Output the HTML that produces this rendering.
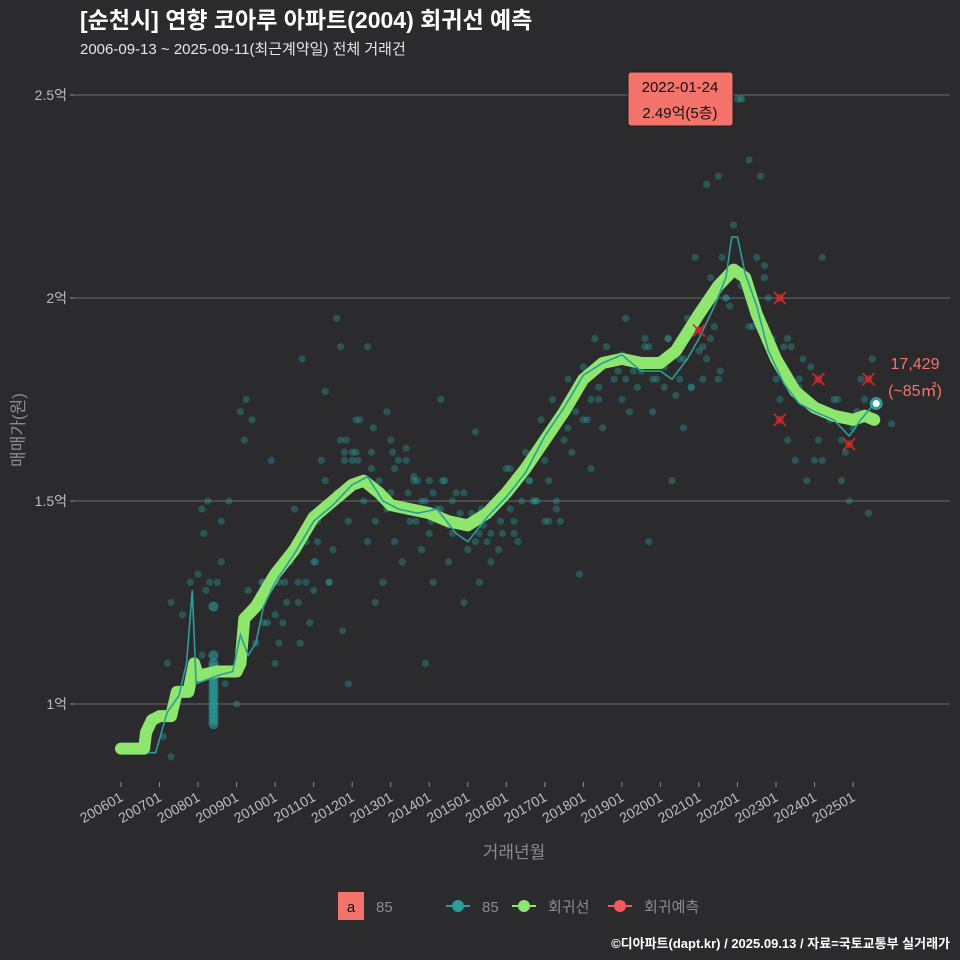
<!DOCTYPE html>
<html><head><meta charset="utf-8">
<style>
html,body{margin:0;padding:0;background:#2b2b2d;}
svg{display:block;font-family:"Liberation Sans","Noto Sans CJK KR",sans-serif;}
</style></head>
<body>
<svg id="chart" width="960" height="960" viewBox="0 0 960 960">
<rect x="0" y="0" width="960" height="960" fill="#2b2b2d"/>
<text x="80" y="28" fill="#ffffff" font-size="23" font-weight="bold">[순천시] 연향 코아루 아파트(2004) 회귀선 예측</text>
<text x="80" y="54" fill="#e6e6e6" font-size="15">2006-09-13 ~ 2025-09-11(최근계약일) 전체 거래건</text>
<g id="grid"></g>
<g id="yticks"></g>
<g id="xticks"></g>
<g id="points"></g>
<g id="lines"></g>
<g id="preds"></g>
<text x="24" y="430" fill="#8c8c8c" font-size="17" transform="rotate(-90 24 430)" text-anchor="middle">매매가(원)</text>
<text x="514" y="858" fill="#8c8c8c" font-size="17" text-anchor="middle">거래년월</text>
<g>
<rect x="628" y="72" width="105" height="54" rx="3" fill="#f4736b" stroke="#222" stroke-width="1"/>
<text x="680" y="92" font-size="15" fill="#111" text-anchor="middle">2022-01-24</text>
<text x="680" y="118" font-size="15" fill="#111" text-anchor="middle">2.49억(5층)</text>
</g>
<text x="915" y="369" fill="#f4736b" font-size="16" text-anchor="middle">17,429</text>
<text x="915" y="396" fill="#f4736b" font-size="16" text-anchor="middle">(~85㎡)</text>
<g>
<rect x="338" y="892" width="26" height="28" fill="#f4736b"/>
<text x="351" y="912" font-size="15" fill="#111" text-anchor="middle">a</text>
<text x="376" y="912" font-size="15" fill="#8c8c8c">85</text>
<g><line x1="446" y1="906" x2="470" y2="906" stroke="#2a9d9a" stroke-width="2"/><circle cx="458" cy="906" r="6" fill="#2a9d9a"/><text x="482" y="912" font-size="15" fill="#8c8c8c">85</text></g>
<g><line x1="512" y1="906" x2="536" y2="906" stroke="#8ee66e" stroke-width="2"/><circle cx="524" cy="906" r="6" fill="#8ee66e"/><text x="548" y="912" font-size="15" fill="#8c8c8c">회귀선</text></g>
<g><line x1="608" y1="906" x2="632" y2="906" stroke="#f05a5a" stroke-width="2"/><circle cx="620" cy="906" r="6" fill="#f05a5a"/><text x="644" y="912" font-size="15" fill="#8c8c8c">회귀예측</text></g>
</g>
<text x="950" y="948" fill="#ffffff" font-size="13" font-weight="bold" text-anchor="end">©디아파트(dapt.kr) / 2025.09.13 / 자료=국토교통부 실거래가</text>
</svg>
<script>
const yTicks=[1,1.5,2,2.5];
const yTickLabels=["1억","1.5억","2억","2.5억"];
const xTickYears=[2006,2007,2008,2009,2010,2011,2012,2013,2014,2015,2016,2017,2018,2019,2020,2021,2022,2023,2024,2025];
const xTickLabels=["200601","200701","200801","200901","201001","201101","201201","201301","201401","201501","201601","201701","201801","201901","202001","202101","202201","202301","202401","202501"];
const regT=[2006.0,2006.6,2006.65,2006.8,2007.0,2007.3,2007.45,2007.75,2007.9,2008.0,2008.5,2009.0,2009.1,2009.2,2009.5,2010.0,2010.5,2011.0,2011.5,2012.0,2012.3,2012.7,2013.0,2013.5,2014.0,2014.5,2015.0,2015.5,2016.0,2016.5,2017.0,2017.5,2018.0,2018.5,2019.0,2019.5,2020.0,2020.4,2020.8,2021.0,2021.5,2021.9,2022.2,2022.5,2023.0,2023.5,2024.0,2024.5,2025.0,2025.3,2025.55];
const regV=[0.89,0.89,0.93,0.96,0.97,0.97,1.03,1.03,1.10,1.07,1.08,1.08,1.10,1.21,1.24,1.32,1.38,1.46,1.50,1.54,1.55,1.52,1.49,1.48,1.47,1.45,1.44,1.47,1.52,1.58,1.65,1.72,1.80,1.84,1.85,1.84,1.84,1.87,1.93,1.96,2.03,2.07,2.05,1.96,1.85,1.77,1.73,1.71,1.70,1.71,1.70];
const lineT=[2006.7,2006.9,2007.2,2007.5,2007.7,2007.85,2007.95,2008.5,2008.9,2009.1,2009.3,2009.5,2009.7,2010.0,2010.5,2011.0,2011.5,2012.0,2012.4,2012.8,2013.2,2013.7,2014.2,2014.7,2015.0,2015.5,2016.0,2016.5,2017.0,2017.5,2018.0,2018.5,2019.0,2019.5,2020.0,2020.3,2020.7,2021.0,2021.4,2021.7,2021.85,2022.0,2022.2,2022.5,2022.8,2023.2,2023.6,2024.0,2024.5,2024.9,2025.2,2025.55];
const lineV=[0.88,0.88,0.98,1.02,1.10,1.28,1.05,1.07,1.08,1.17,1.12,1.15,1.24,1.30,1.37,1.45,1.49,1.54,1.56,1.50,1.48,1.47,1.48,1.42,1.40,1.46,1.51,1.57,1.66,1.73,1.81,1.84,1.86,1.82,1.82,1.80,1.85,1.90,1.98,2.05,2.15,2.15,2.06,1.98,1.87,1.79,1.74,1.72,1.70,1.66,1.70,1.74];
const ptT=[2007.1,2007.3,2007.6,2007.8,2008.0,2008.1,2008.2,2008.3,2008.5,2008.6,2008.8,2009.0,2009.2,2009.3,2009.5,2009.7,2009.8,2010.0,2010.1,2010.3,2010.4,2010.5,2010.6,2010.8,2010.9,2011.0,2011.1,2011.2,2011.3,2011.4,2011.5,2011.6,2011.7,2011.8,2011.9,2012.0,2012.1,2012.2,2012.3,2012.4,2012.5,2012.6,2012.7,2012.8,2012.9,2013.0,2013.1,2013.2,2013.3,2013.5,2013.6,2013.8,2013.9,2014.0,2014.1,2014.2,2014.4,2014.5,2014.6,2014.7,2014.8,2014.9,2015.0,2015.1,2015.2,2015.3,2015.4,2015.6,2015.7,2015.9,2016.0,2016.2,2016.3,2016.5,2016.6,2016.8,2016.9,2017.0,2017.1,2017.2,2017.4,2017.5,2017.6,2017.8,2018.0,2018.1,2018.3,2018.4,2018.6,2018.8,2019.0,2019.1,2019.3,2019.4,2019.6,2019.8,2019.9,2020.1,2020.2,2020.4,2020.5,2020.7,2020.8,2020.9,2021.0,2021.1,2021.2,2021.3,2021.4,2021.5,2021.6,2021.7,2021.8,2021.9,2022.0,2022.1,2022.3,2022.4,2022.6,2022.7,2022.9,2023.0,2023.1,2023.2,2023.3,2023.5,2023.6,2023.8,2023.9,2024.0,2024.1,2024.2,2024.4,2024.5,2024.7,2024.8,2024.9,2025.0,2025.1,2025.2,2025.4,2025.5,2026.0,2012.0,2012.4,2013.4,2014.3,2015.2,2016.4,2017.3,2018.2,2019.2,2020.6,2011.3,2010.7,2009.9,2011.9,2012.6,2013.9,2014.8,2016.1,2017.9,2019.7,2020.3,2021.2,
2011.6,2011.7,2011.75,2011.8,2011.85,2012.1,2012.15,2012.2,2012.5,2012.55,2012.9,2013.0,2013.05,2013.1,2013.4,2013.45,2013.6,2013.65,2013.7,2013.8,2014.0,2014.05,2014.1,2014.3,2014.35,2014.5,2014.6,2014.65,2014.9,2015.0,2015.3,2015.35,2015.5,2015.6,2015.8,2015.85,2016.1,2016.2,2016.6,2016.7,2016.75,2017.0,2017.1,2017.3,2017.4,2017.6,2017.7,2018.0,2018.2,2018.4,2018.5,2018.7,2018.9,2019.0,2019.1,2019.2,2019.5,2019.6,2019.7,2019.8,2020.0,2020.1,2020.2,2020.5,2020.6,2020.8,2021.1,2021.3,2021.5,2021.55,2021.7,2022.3,2022.5,2022.7,2022.8,2023.3,2023.4,2023.6,2023.7,2024.2,2024.3,2024.6,2024.7,2025.1,2025.3,
2009.1,2009.2,2009.25,2009.4,2009.6,2009.65,2009.7,2010.2,2010.25,2010.6,2010.65,2010.8,2011.0,2011.05,2011.1,2011.4,2011.45,2008.1,2008.15,2008.25,2008.6,2008.7,2007.2,2007.3,2010.0,2010.1];
const ptV=[0.92,0.87,1.22,1.30,1.32,1.12,1.28,1.30,1.30,1.35,1.50,1.00,1.20,1.28,1.15,1.30,1.20,1.22,1.30,1.25,1.35,1.48,1.30,1.40,1.20,1.35,1.45,1.60,1.55,1.30,1.38,1.52,1.65,1.62,1.45,1.60,1.70,1.55,1.50,1.40,1.62,1.45,1.55,1.30,1.48,1.52,1.40,1.60,1.35,1.45,1.55,1.38,1.50,1.42,1.30,1.48,1.55,1.35,1.42,1.52,1.45,1.25,1.38,1.47,1.40,1.30,1.44,1.35,1.50,1.42,1.58,1.45,1.40,1.62,1.55,1.50,1.70,1.60,1.45,1.75,1.70,1.65,1.80,1.72,1.83,1.70,1.90,1.78,1.88,1.80,1.75,1.95,1.82,1.78,1.88,1.72,1.80,1.83,1.90,1.76,1.85,1.95,1.78,2.10,1.87,1.80,2.28,2.05,1.93,2.30,2.10,2.00,1.98,2.18,2.49,2.03,2.34,1.93,2.30,2.08,1.90,1.80,1.75,1.88,1.65,1.60,1.78,1.55,1.83,1.60,1.65,2.10,1.70,1.75,1.55,1.62,1.50,1.68,1.72,1.80,1.47,1.85,1.69,1.62,1.88,1.63,1.75,1.67,1.50,1.48,1.58,1.72,1.68,1.77,1.85,1.60,1.05,1.25,1.10,1.47,1.58,1.32,1.40,1.55,1.85,1.95,1.88,1.18,1.60,
1.65,1.62,1.60,1.70,1.58,1.68,1.72,1.65,1.62,1.58,1.60,1.52,1.56,1.45,1.55,1.50,1.55,1.45,1.52,1.48,1.55,1.44,1.50,1.45,1.52,1.45,1.42,1.48,1.40,1.42,1.38,1.45,1.48,1.42,1.55,1.50,1.50,1.45,1.55,1.50,1.45,1.68,1.62,1.70,1.75,1.75,1.68,1.85,1.82,1.86,1.80,1.85,1.82,1.90,1.88,1.80,1.85,1.78,1.90,1.80,1.85,1.78,1.88,1.90,1.80,1.82,2.00,1.93,2.10,2.05,2.00,1.90,1.88,1.80,1.85,1.60,1.72,1.75,1.65,1.70,1.75,1.72,1.65,1.75,1.70,
1.25,1.30,1.20,1.20,1.30,1.25,1.15,1.30,1.28,1.35,1.40,1.30,1.50,1.48,1.42,1.50,1.45,1.05,1.10,1.25,1.10,1.15,1.22,1.20,1.40,1.35];
const clusterV=[0.95,0.96,0.97,0.98,0.99,1.00,1.01,1.02,1.03,1.04,1.05,1.06,1.07,1.08,1.09,1.10,1.12,1.24];
const clusterT=2008.4;
const predT=[2021.0,2023.1,2023.1,2024.1,2024.9,2025.4];
const predV=[1.92,2.00,1.70,1.80,1.64,1.80];
const lastT=2025.6, lastV=1.74;

const NS="http://www.w3.org/2000/svg";
function xS(t){return 121+(t-2006)*38.53;}
function yS(v){return 704-(v-1)*406;}
function mk(tag,attrs,parent){const e=document.createElementNS(NS,tag);for(const k in attrs)e.setAttribute(k,attrs[k]);parent.appendChild(e);return e;}
const grid=document.getElementById('grid'),yt=document.getElementById('yticks'),xt=document.getElementById('xticks');
yTicks.forEach((v,i)=>{
 const l=mk('line',{x1:75,x2:950,y1:yS(v),y2:yS(v),stroke:'#6a6a6a','stroke-width':1},grid);
 
 
 mk('line',{x1:70,x2:75,y1:yS(v),y2:yS(v),stroke:'#8c8c8c'},yt);
 const t=mk('text',{x:67,y:yS(v)+5,'text-anchor':'end','font-size':14,fill:'#bdbdbd'},yt);
 t.textContent=yTickLabels[i];
 
 
});
xTickYears.forEach((yr,i)=>{
 const x=xS(yr);
 mk('line',{x1:x,x2:x,y1:782,y2:787,stroke:'#8c8c8c'},xt);
 const t=mk('text',{x:x+3,y:800,'text-anchor':'end','font-size':14,fill:'#bdbdbd',transform:`rotate(-30 ${x+3} 800)`},xt);
 t.textContent=xTickLabels[i];
 
 
});
const pts=document.getElementById('points');
ptT.forEach((t,i)=>{
 const c=mk('circle',{cx:xS(t),cy:yS(ptV[i]),r:3.6,fill:'#2a9d9a','fill-opacity':0.38},pts);
 
 
});
clusterV.forEach(v=>{
 const c=mk('circle',{cx:xS(clusterT),cy:yS(v),r:5,fill:'#2a9d9a','fill-opacity':0.6},pts);
 
 
});
const lines=document.getElementById('lines');
const reg=mk('path',{d:regT.map((t,i)=>(i?'L':'M')+xS(t)+' '+yS(regV[i])).join(' '),fill:'none',stroke:'#8ee66e','stroke-width':12,'stroke-linejoin':'round','stroke-linecap':'round'},lines);


const ln=mk('path',{d:lineT.map((t,i)=>(i?'L':'M')+xS(t)+' '+yS(lineV[i])).join(' '),fill:'none',stroke:'#2a9d9a','stroke-width':1.6},lines);


const pr=document.getElementById('preds');
predT.forEach((t,i)=>{
 const x=xS(t),y=yS(predV[i]);
 const g=mk('g',{},pr);
 
 
 mk('circle',{cx:x,cy:y,r:4,fill:'#c0392b','fill-opacity':0.6},g);
 mk('path',{d:`M${x-6} ${y-6}L${x+6} ${y+6}M${x-6} ${y+6}L${x+6} ${y-6}`,stroke:'#d8282b','stroke-width':1.6},g);
});
const lp=mk('circle',{cx:xS(lastT),cy:yS(lastV),r:5,fill:'#fff',stroke:'#2a9d9a','stroke-width':3},pr);


const mp=mk('circle',{cx:xS(2022.1),cy:yS(2.49),r:3.6,fill:'#2a9d9a','fill-opacity':0.5},pr);


</script>
</body></html>
